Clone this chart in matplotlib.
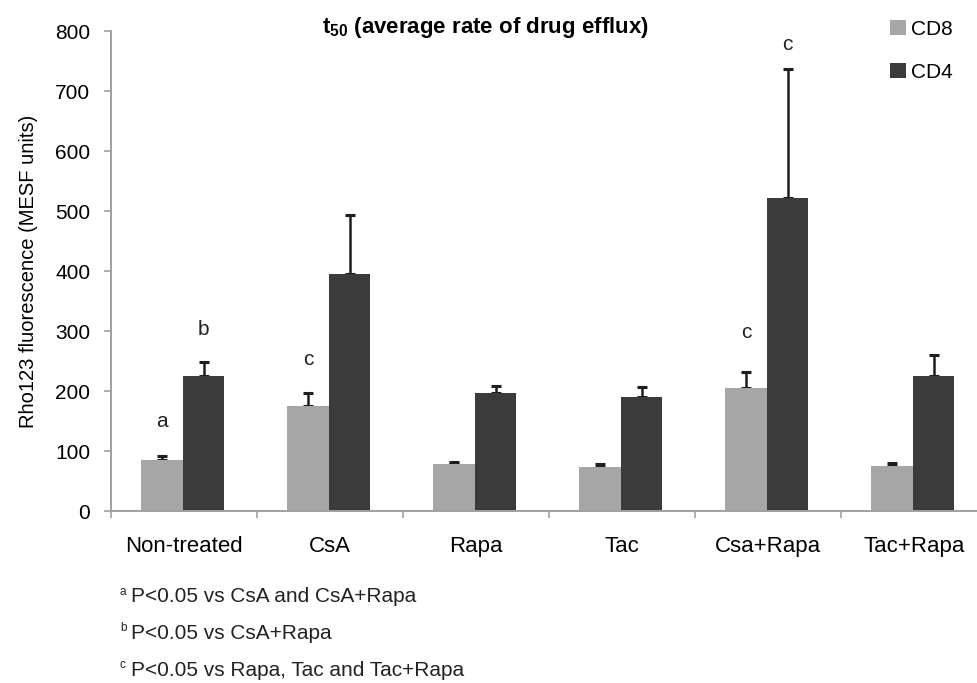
import matplotlib.pyplot as plt
import numpy as np

plt.rcParams['font.family'] = ['Liberation Sans', 'DejaVu Sans']

# Rho123 fluorescence per treatment group (mean and upper SEM)
groups = ['Non-treated', 'CsA', 'Rapa', 'Tac', 'Csa+Rapa', 'Tac+Rapa']
cd8_mean = [85, 175, 78, 73, 205, 75]
cd8_err = [7, 22, 4, 5, 26, 5]
cd4_mean = [225, 395, 197, 190, 522, 225]
cd4_err = [24, 98, 11, 17, 215, 35]

# significance letters: (group index, series, letter, label height)
sig_labels = [(0, 'CD8', 'a', 149), (0, 'CD4', 'b', 302),
              (1, 'CD8', 'c', 252), (4, 'CD8', 'c', 297),
              (4, 'CD4', 'c', 777)]

footnotes = [('a', 'P<0.05 vs CsA and CsA+Rapa'),
             ('b', 'P<0.05 vs CsA+Rapa'),
             ('c', 'P<0.05 vs Rapa, Tac and Tac+Rapa')]

cd8_color = '#a6a6a6'
cd4_color = '#3b3b3b'
axis_gray = '#a0a0a0'

fig = plt.figure(figsize=(9.77, 6.83), dpi=100)
ax = fig.add_axes([0.1136, 0.2518, 0.8966, 0.7028])

x = np.arange(len(groups))
w = 0.285
off = {'CD8': -w / 2 - 0.008, 'CD4': w / 2 - 0.008}

ax.bar(x + off['CD8'], cd8_mean, w, color=cd8_color, label='CD8', zorder=2)
ax.bar(x + off['CD4'], cd4_mean, w, color=cd4_color, label='CD4', zorder=2)

zeros = np.zeros(len(groups))
ax.errorbar(x + off['CD8'], cd8_mean, yerr=[zeros, cd8_err], fmt='none',
            ecolor='#1e1e1e', elinewidth=1.8, capsize=3.5, capthick=2.2, zorder=1)
ax.errorbar(x + off['CD4'], cd4_mean, yerr=[zeros, cd4_err], fmt='none',
            ecolor='#1e1e1e', elinewidth=1.8, capsize=3.5, capthick=2.2, zorder=1)

for gi, series, letter, yv in sig_labels:
    ax.text(gi + off[series], yv, letter, ha='center', va='center',
            fontsize=15, color='#222222')

ax.set_xlim(-0.5, 5.5)
ax.set_ylim(0, 800)
ax.set_yticks(np.arange(0, 801, 100))

# category boundaries carry the tick marks, names sit between them
ax.set_xticks(np.arange(-0.5, 6, 1))
ax.set_xticklabels([])
ax.set_xticks(x, minor=True)
ax.set_xticklabels(groups, minor=True, fontsize=16)
ax.tick_params(axis='x', which='minor', length=0, pad=18)
ax.tick_params(axis='x', which='major', length=5, color=axis_gray, width=1.2)
ax.tick_params(axis='y', length=5, color=axis_gray, width=1.2,
               labelsize=15, pad=10)

for side in ['top', 'right']:
    ax.spines[side].set_visible(False)
for side in ['left', 'bottom']:
    ax.spines[side].set_color(axis_gray)
    ax.spines[side].set_linewidth(1.4)

ax.set_ylabel('Rho123 fluorescence (MESF units)', fontsize=14.5, labelpad=12)
fig.text(485 / 977, 1 - 27 / 683,
         r't$_{\mathregular{50}}$ (average rate of drug efflux)',
         fontsize=16, fontweight='bold', ha='center', va='center')

fig.legend(loc='upper left', bbox_to_anchor=(0.892, 0.998), frameon=False,
           fontsize=15, handlelength=0.75, handleheight=0.75,
           handletextpad=0.25, labelspacing=1.15)

for i, (letter, text) in enumerate(footnotes):
    ytop = 1 - (597 + 36.5 * i) / 683
    fig.text(120 / 977, ytop + 0.008, letter, fontsize=8.5, va='center',
             color='#222222')
    fig.text(131 / 977, ytop, text, fontsize=15, va='center', color='#222222')

fig.savefig('out.png', dpi=100)
